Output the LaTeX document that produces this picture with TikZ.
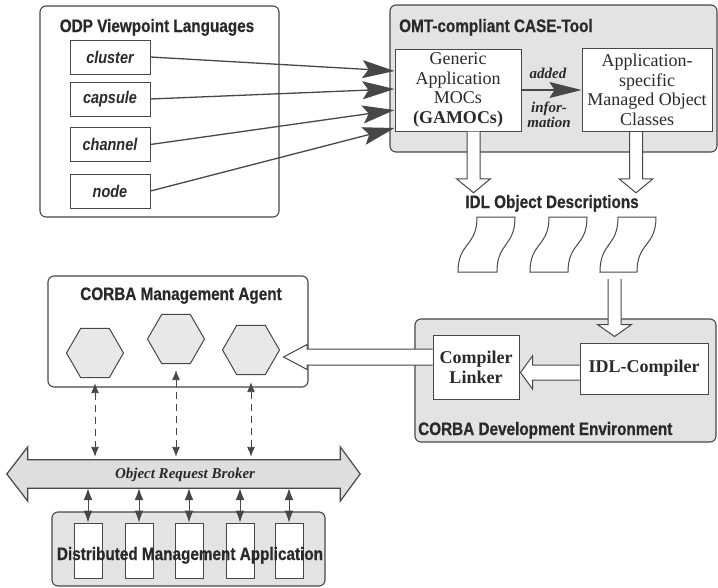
\documentclass[tikz,border=0pt]{standalone}
\usepackage{fontspec}
\setmainfont{Liberation Serif}
\newfontfamily\hsans[FakeStretch=0.85, BoldFeatures={FakeBold=0.6}]{Liberation Sans}
\usetikzlibrary{shapes.geometric,arrows.meta,calc}
\definecolor{ln}{HTML}{474747}
\definecolor{txt}{HTML}{2A2A2A}
\definecolor{boxgray}{HTML}{E3E3E3}
\definecolor{hexgray}{HTML}{E8E8E8}
\definecolor{orbgray}{HTML}{DEDEDE}
\tikzset{
 frame/.style={draw=ln, line width=1.1pt, rounded corners=6pt},
 grayframe/.style={frame, fill=boxgray},
 whiteframe/.style={frame, fill=white},
 title/.style={font=\hsans\bfseries\fontsize{18}{20}\selectfont, text=txt, inner sep=0pt, anchor=base},
 langbox/.style={draw=ln, line width=1pt, fill=white, minimum width=80pt, minimum height=34pt, inner sep=0pt, text=txt, font=\hsans\bfseries\itshape\fontsize{17}{19}\selectfont},
 serifbox/.style={draw=ln, line width=1pt, fill=white, inner sep=0pt, align=center, text=txt, font=\fontsize{18}{19.5}\selectfont},
 hollow/.style={draw=ln, line width=1pt, fill=white, line join=miter},
 hexa/.style={regular polygon, regular polygon sides=6, minimum size=57pt, inner sep=0pt, draw=ln, line width=1pt, fill=hexgray},
 odparrow/.style={draw=ln, line width=1.3pt, -{Stealth[length=32pt,width=18pt,inset=6pt]}},
 bigarrow/.style={draw=ln, line width=1.3pt, -{Stealth[length=32pt,width=16pt,inset=5pt]}},
 dasharrow/.style={draw=ln, line width=0.9pt, dash pattern=on 7pt off 5pt, {Latex[length=10pt,width=8pt]}-{Latex[length=10pt,width=8pt]}},
 smallarrow/.style={draw=ln, line width=1pt, {Latex[length=12pt,width=9pt]}-{Latex[length=12pt,width=9pt]}},
 docstyle/.style={draw=ln, line width=1pt, fill=white},
 minibox/.style={draw=ln, line width=1pt, fill=white, minimum width=28pt, minimum height=55pt, inner sep=0pt},
 infolabel/.style={font=\bfseries\itshape\fontsize{15}{16}\selectfont, text=txt, inner sep=0pt, anchor=base},
}
\begin{document}
\begin{tikzpicture}[x=1pt,y=-1pt]
\useasboundingbox (0,0) rectangle (718,587);

% ODP Viewpoint Languages
\draw[whiteframe] (40,6) rectangle (279,217);
\node[title] (odpt) at (157,32) {ODP Viewpoint Languages};
\node[langbox] (cluster) at (110,57) {cluster};
\node[langbox] (capsule) at (110,99) {capsule};
\node[langbox] (channel) at (110,144.5) {channel};
\node[langbox] (nodebox) at (110,191) {node};

% OMT-compliant CASE-Tool
\draw[grayframe] (390,5) rectangle (717,152);
\node[title, anchor=base west] (omtt) at (399,32) {OMT-compliant CASE-Tool};
\node[serifbox, minimum width=126pt, minimum height=82pt] (gam) at (458,90)
  {Generic\\Application\\MOCs\\\textbf{(GAMOCs)}};
\node[serifbox, minimum width=130pt, minimum height=83pt] (app) at (647,90)
  {Application-\\specific\\Managed Object\\Classes};
\draw[bigarrow] (gam.east) -- (app.west);
\node[infolabel] (added) at (548,78) {added};
\node[infolabel] (infor) at (549,112) {infor-};
\node[infolabel] (mation) at (549,127) {mation};

\draw[odparrow] (cluster.east) -- ($(gam.west)+(0,-19)$);
\draw[odparrow] (capsule.east) -- ($(gam.west)+(0,-1)$);
\draw[odparrow] (channel.east) -- ($(gam.west)+(0,20)$);
\draw[odparrow] (nodebox.east) -- ($(gam.west)+(0,38)$);

% IDL Object Descriptions
\node[title] (idl) at (552,208) {IDL Object Descriptions};
\draw[hollow] let \p1=($(gam.south)+(15.5,0)$), \p2=(idl.north) in
  (\x1-6.5pt,\y1) -- (\x1-6.5pt,\y2+16pt) -- (\x1-17pt,\y2+16pt) -- (\x1,\y2+2pt)
  -- (\x1+17pt,\y2+16pt) -- (\x1+6.5pt,\y2+16pt) -- (\x1+6.5pt,\y1);
\draw[hollow] let \p1=($(app.south)+(-11,0)$), \p2=(idl.north) in
  (\x1-6.5pt,\y1) -- (\x1-6.5pt,\y2+16pt) -- (\x1-17pt,\y2+16pt) -- (\x1,\y2+2pt)
  -- (\x1+17pt,\y2+16pt) -- (\x1+6.5pt,\y2+16pt) -- (\x1+6.5pt,\y1);

\draw[docstyle] (477,217) -- (515,217) .. controls (515,247) and (497,242) .. (497,272)
  -- (458,272) .. controls (458,242) and (477,247) .. (477,217) -- cycle;
\draw[docstyle] (549,217) -- (587,217) .. controls (587,247) and (568,242) .. (568,272)
  -- (530,272) .. controls (530,242) and (549,247) .. (549,217) -- cycle;
\draw[docstyle] (618,217) -- (656,217) .. controls (656,247) and (637,242) .. (637,272)
  -- (600,272) .. controls (600,242) and (618,247) .. (618,217) -- cycle;
\coordinate (d3) at (614.5,279);

% CORBA Development Environment
\draw[grayframe] (415,319) rectangle (716,442);
\node[title, anchor=base west] (cdet) at (418,435) {CORBA Development Environment};
\node[serifbox, minimum width=128pt, minimum height=51pt, font=\bfseries\fontsize{18}{19.5}\selectfont] (idlc) at (644,368.5) {IDL-Compiler};
\node[serifbox, minimum width=86pt, minimum height=64pt, font=\bfseries\fontsize{18}{20}\selectfont] (cl) at (476,367) {Compiler\\Linker};

\draw[hollow] let \p1=(d3), \p2=(idlc.north) in
  (\x1-6.5pt,\y1) -- (\x1-6.5pt,\y2+18pt) -- (\x1-17pt,\y2+18pt) -- (\x1,\y2+6pt)
  -- (\x1+17pt,\y2+18pt) -- (\x1+6.5pt,\y2+18pt) -- (\x1+6.5pt,\y1);
\draw[hollow] let \p1=($(idlc.west)+(0,4)$), \p2=(cl.east) in
  (\x1,\y1+7.5pt) -- (\x2+13pt,\y1+7.5pt) -- (\x2+13pt,\y1+16.5pt) -- (\x2+1pt,\y1)
  -- (\x2+13pt,\y1-16.5pt) -- (\x2+13pt,\y1-7.5pt) -- (\x1,\y1-7.5pt);

% CORBA Management Agent
\draw[whiteframe] (48,276) rectangle (308,387);
\node[title] (cmat) at (181,300) {CORBA Management Agent};
\node[hexa] (hex1) at (95,353) {};
\node[hexa] (hex2) at (176,339) {};
\node[hexa] (hex3) at (251,350) {};

\draw[hollow] let \p1=($(cl.west)+(0,-10)$), \p2=(hex3.east) in
  (\x1,\y1+8pt) -- (\x2+27pt,\y1+8pt) -- (\x2+27pt,\y1+12.5pt) -- (\x2+3.5pt,\y1)
  -- (\x2+27pt,\y1-12.5pt) -- (\x2+27pt,\y1-8pt) -- (\x1,\y1-8pt);

% Object Request Broker
\node[minimum width=312pt, minimum height=28pt, inner sep=0pt] (orb) at (184,474) {};
\draw[draw=ln, line width=1.2pt, fill=orbgray, line join=miter]
  (orb.north west) -- ($(orb.north west)+(0,-13)$) -- ($(orb.west)+(-21,0)$)
  -- ($(orb.south west)+(0,13)$) -- (orb.south west) -- (orb.south east)
  -- ($(orb.south east)+(0,13)$) -- ($(orb.east)+(20,0)$)
  -- ($(orb.north east)+(0,-13)$) -- (orb.north east) -- cycle;
\node[font=\bfseries\itshape\fontsize{15}{16}\selectfont, text=txt, inner sep=0pt, anchor=base] (orbtext) at (185,478) {Object Request Broker};

\draw[dasharrow, shorten <=5pt, shorten >=3pt] (hex1.south) -- (hex1.south |- orb.north);
\draw[dasharrow, shorten <=6pt, shorten >=3pt] (hex2.south) -- (hex2.south |- orb.north);
\draw[dasharrow, shorten <=7pt, shorten >=3pt] (hex3.south) -- (hex3.south |- orb.north);

% Distributed Management Application
\draw[grayframe] (52,512) rectangle (325,586);
\node[minibox] (b1) at (88,550.5) {};
\node[minibox] (b2) at (139,550.5) {};
\node[minibox] (b3) at (189,550.5) {};
\node[minibox] (b4) at (240,550.5) {};
\node[minibox] (b5) at (289,550.5) {};
\node[title] (dmat) at (190,560) {Distributed Management Application};
\foreach \b in {b1,b2,b3,b4,b5}{
  \draw[smallarrow] (\b.north |- orb.south) -- (\b.north);
}
\end{tikzpicture}
\end{document}
